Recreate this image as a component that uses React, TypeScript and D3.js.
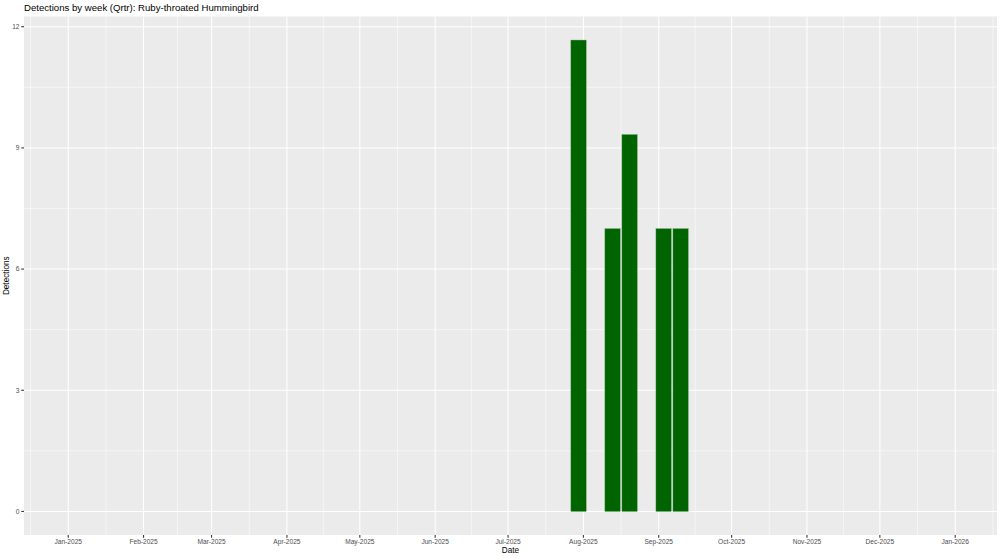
import React from "react";
import * as d3 from "d3";

const weekDates = ["2025-07-30", "2025-08-13", "2025-08-20", "2025-09-03", "2025-09-10"];
const detections = [11.67, 7, 9.33, 7, 7];
const yTicks = [0, 3, 6, 9, 12];
const monthTicks = [
  "2025-01-01", "2025-02-01", "2025-03-01", "2025-04-01", "2025-05-01", "2025-06-01",
  "2025-07-01", "2025-08-01", "2025-09-01", "2025-10-01", "2025-11-01", "2025-12-01", "2026-01-01",
];
const limits = ["2025-01-01", "2025-12-31"];
const title = "Detections by week (Qrtr): Ruby-throated Hummingbird";

const W = 1000, H = 558;
const panel = { left: 24, right: 997, top: 16.5, bottom: 535 };
const DAY = 86400000;
const FONT = "'Liberation Sans', Arial, sans-serif";

export default function App() {
  const p = (s: string) => new Date(s + "T00:00:00Z");
  const lim = limits.map(p);
  const span = lim[1].getTime() - lim[0].getTime();
  const x = d3.scaleUtc()
    .domain([new Date(lim[0].getTime() - span * 0.05), new Date(lim[1].getTime() + span * 0.05)])
    .range([panel.left, panel.right]);
  const yMax = d3.max(detections)!;
  const y = d3.scaleLinear()
    .domain([-yMax * 0.05, yMax * 1.05])
    .range([panel.bottom, panel.top]);

  const majors = monthTicks.map(p);
  const ext = [new Date(Date.UTC(2024, 11, 1)), ...majors, new Date(Date.UTC(2026, 1, 1))];
  const minorX: Date[] = [];
  for (let i = 0; i < ext.length - 1; i++) {
    minorX.push(new Date((ext[i].getTime() + ext[i + 1].getTime()) / 2));
  }
  const minorY: number[] = [];
  for (let i = 0; i < yTicks.length - 1; i++) minorY.push((yTicks[i] + yTicks[i + 1]) / 2);

  const fmt = d3.utcFormat("%b-%Y");
  const barW = 6.3 * DAY;
  const clipId = "panelclip";

  return (
    <svg width={W} height={H} style={{ position: "absolute", left: 0, top: 0, background: "#fff" }}>
      <defs>
        <clipPath id={clipId}>
          <rect x={panel.left} y={panel.top} width={panel.right - panel.left} height={panel.bottom - panel.top} />
        </clipPath>
      </defs>
      <text x={panel.left} y={11} fontFamily={FONT} fontSize={9.6} fill="#000">{title}</text>
      <rect x={panel.left} y={panel.top} width={panel.right - panel.left} height={panel.bottom - panel.top} fill="#EBEBEB" />
      <g clipPath={`url(#${clipId})`}>
        {minorY.map((v) => (
          <line key={"my" + v} x1={panel.left} x2={panel.right} y1={y(v)} y2={y(v)} stroke="#fff" strokeWidth={0.53} />
        ))}
        {minorX.map((d, i) => (
          <line key={"mx" + i} x1={x(d)} x2={x(d)} y1={panel.top} y2={panel.bottom} stroke="#fff" strokeWidth={0.53} />
        ))}
        {yTicks.map((v) => (
          <line key={"gy" + v} x1={panel.left} x2={panel.right} y1={y(v)} y2={y(v)} stroke="#fff" strokeWidth={1.07} />
        ))}
        {majors.map((d, i) => (
          <line key={"gx" + i} x1={x(d)} x2={x(d)} y1={panel.top} y2={panel.bottom} stroke="#fff" strokeWidth={1.07} />
        ))}
        {weekDates.map((s, i) => {
          const c = p(s).getTime();
          const x0 = x(new Date(c - barW / 2));
          const x1 = x(new Date(c + barW / 2));
          return (
            <rect key={"b" + i} x={x0} width={x1 - x0} y={y(detections[i])} height={y(0) - y(detections[i])}
              fill="#006400" stroke="#5a9a5a" strokeWidth={0.4} />
          );
        })}
      </g>
      {yTicks.map((v) => (
        <g key={"ty" + v}>
          <line x1={panel.left - 2.74} x2={panel.left} y1={y(v)} y2={y(v)} stroke="#333" strokeWidth={1.07} />
          <text x={panel.left - 4.5} y={y(v)} dy="0.35em" textAnchor="end" fontFamily={FONT} fontSize={6.6} fill="#4D4D4D">{v}</text>
        </g>
      ))}
      {majors.map((d, i) => (
        <g key={"tx" + i}>
          <line x1={x(d)} x2={x(d)} y1={panel.bottom} y2={panel.bottom + 2.74} stroke="#333" strokeWidth={1.07} />
          <text x={x(d)} y={panel.bottom + 9} textAnchor="middle" fontFamily={FONT} fontSize={6.6} fill="#4D4D4D">{fmt(d)}</text>
        </g>
      ))}
      <text x={(panel.left + panel.right) / 2} y={553} textAnchor="middle" fontFamily={FONT} fontSize={8.2} fill="#000">Date</text>
      <text transform={`translate(9, ${(panel.top + panel.bottom) / 2}) rotate(-90)`} textAnchor="middle" fontFamily={FONT} fontSize={8.2} fill="#000">Detections</text>
    </svg>
  );
}
